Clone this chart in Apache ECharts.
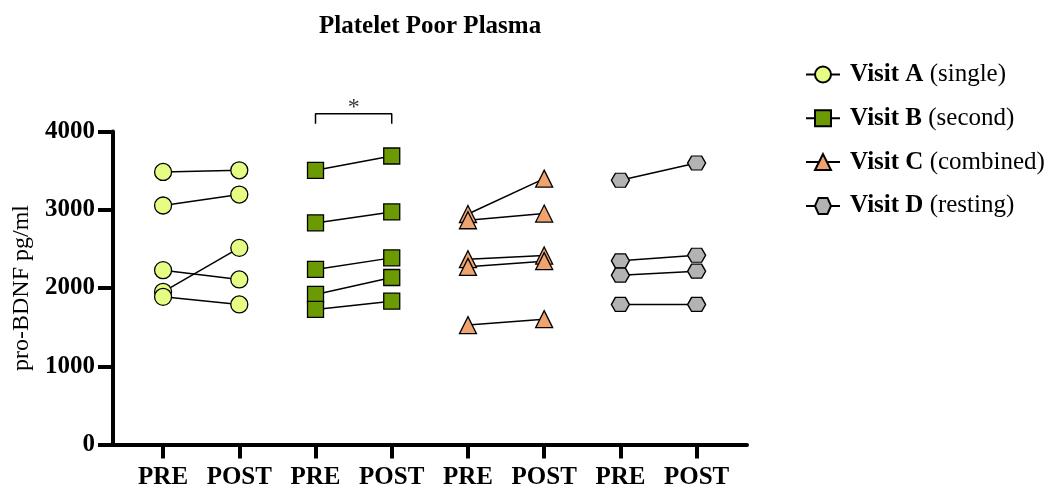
<!DOCTYPE html>
<html>
<head>
<meta charset="utf-8">
<script src="https://cdn.jsdelivr.net/npm/echarts@6/dist/echarts.min.js"></script>
<style>
html,body{margin:0;padding:0;background:#fff;}
#chart{width:1055px;height:488px;}
</style>
</head>
<body>
<div id="chart"></div>
<script>
// ---- data ----
const xLabels = ['PRE', 'POST', 'PRE', 'POST', 'PRE', 'POST', 'PRE', 'POST'];
const visitNames = ['Visit A', 'Visit B', 'Visit C', 'Visit D'];
const visitDesc = ['single', 'second', 'combined', 'resting'];
const yTicks = [0, 1000, 2000, 3000, 4000];

const visitA_pre  = [3483, 3054, 2228, 1951, 1887];
const visitA_post = [3504, 3194, 2109, 2513, 1790];
const visitB_pre  = [3504, 2832, 2237, 1918, 1726];
const visitB_post = [3687, 2972, 2385, 2134, 1832];
const visitC_pre  = [2946, 2866, 2368, 2270, 1526];
const visitC_post = [3398, 2951, 2415, 2343, 1602];
const visitD_pre  = [3377, 2347, 2164, 1790];
const visitD_post = [3598, 2419, 2215, 1790];

// significance bracket between Visit B PRE and POST
const bracketX = [3, 4];
const bracketLow = 4100;
const bracketHigh = 4228;
const sigLabel = '*';

// ---- styles ----
const FONT = '"Liberation Serif", "Times New Roman", serif';
const fills = ['#E5FD83', '#6C9A02', '#EFA46F', '#B3B3B3'];
const symbols = ['circle', 'rect', 'triangle', 'path://M0,7L4,0L14,0L18,7L14,14L4,14Z'];
const sizes = [17, 16, 17, [18, 14]];

const pre = [visitA_pre, visitB_pre, visitC_pre, visitD_pre];
const post = [visitA_post, visitB_post, visitC_post, visitD_post];

const series = [];
for (let v = 0; v < 4; v++) {
  const xPre = v * 2 + 1, xPost = v * 2 + 2;
  for (let s = 0; s < pre[v].length; s++) {
    series.push({
      name: visitNames[v],
      type: 'line',
      data: [[xPre, pre[v][s]], [xPost, post[v][s]]],
      symbol: symbols[v],
      symbolSize: sizes[v],
      showAllSymbol: true,
      lineStyle: { color: '#000', width: 1.5 },
      itemStyle: { color: fills[v], borderColor: '#000', borderWidth: 1.3 },
      z: 2
    });
  }
}
series.push({
  type: 'line',
  data: [[bracketX[0], bracketLow], [bracketX[0], bracketHigh], [bracketX[1], bracketHigh], [bracketX[1], bracketLow]],
  symbol: 'none',
  clip: false,
  silent: true,
  lineStyle: { color: '#000', width: 1.5 },
  z: 3
});
series.push({
  type: 'scatter',
  data: [[(bracketX[0] + bracketX[1]) / 2, bracketHigh]],
  symbolSize: 0,
  clip: false,
  silent: true,
  label: { show: true, position: 'top', distance: 2, offset: [0, 8], formatter: sigLabel, fontFamily: FONT, fontSize: 24, color: '#000' }
});

const chart = echarts.init(document.getElementById('chart'));
chart.setOption({
  animation: false,
  backgroundColor: '#fff',
  title: {
    text: 'Platelet Poor Plasma',
    left: 314,
    top: 9,
    textStyle: { fontFamily: FONT, fontSize: 25, fontWeight: 'bold', color: '#000' }
  },
  legend: {
    data: visitNames,
    orient: 'vertical',
    left: 800,
    top: 57,
    itemWidth: 34,
    itemHeight: 20,
    itemGap: 18.8,
    selectedMode: false,
    formatter: function (name) {
      const i = visitNames.indexOf(name);
      return '{b|' + name + '}{r| (' + visitDesc[i] + ')}';
    },
    textStyle: {
      fontFamily: FONT, fontSize: 25, color: '#000',
      rich: {
        b: { fontFamily: FONT, fontSize: 25, fontWeight: 'bold', color: '#000', lineHeight: 28, padding: [0, 0, 0, 5] },
        r: { fontFamily: FONT, fontSize: 25, color: '#000', lineHeight: 28 }
      }
    }
  },
  grid: { left: 113, right: 308, top: 131.5, bottom: 43.5, outerBoundsMode: 'none', containLabel: false },
  xAxis: {
    type: 'value',
    min: 0.343,
    max: 8.661,
    splitLine: { show: false },
    axisLine: { show: true, lineStyle: { color: '#000', width: 4 } },
    axisTick: { show: true, length: 14, customValues: xLabels.map((_, i) => i + 1), lineStyle: { color: '#000', width: 4 } },
    axisLabel: {
      show: true,
      customValues: xLabels.map((_, i) => i + 1),
      formatter: function (v) { return xLabels[Math.round(v) - 1] || ''; },
      margin: 21,
      fontFamily: FONT, fontSize: 25, fontWeight: 'bold', color: '#000'
    }
  },
  yAxis: {
    type: 'value',
    min: yTicks[0],
    max: yTicks[yTicks.length - 1],
    interval: 1000,
    name: 'pro-BDNF pg/ml',
    nameLocation: 'middle',
    nameGap: 78,
    nameTextStyle: { fontFamily: FONT, fontSize: 24, color: '#000' },
    splitLine: { show: false },
    axisLine: { show: true, lineStyle: { color: '#000', width: 4 } },
    axisTick: { show: true, length: 15, lineStyle: { color: '#000', width: 4 } },
    axisLabel: { margin: 18, formatter: function (v) { return String(v); }, fontFamily: FONT, fontSize: 25, fontWeight: 'bold', color: '#000' }
  },
  series: series
});
</script>
</body>
</html>
